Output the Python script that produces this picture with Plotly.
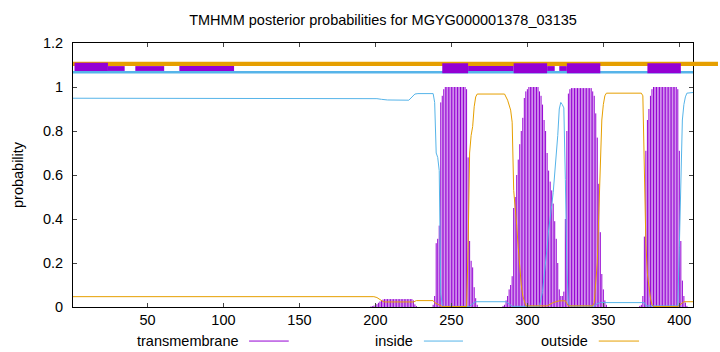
import plotly.graph_objects as go

# ---------------- data ----------------
SEQ_LEN = 409

# transmembrane posterior (impulses), only non-zero stretches
tm_pos_a = list(range(197, 228))
tm_val_a = [0.002, 0.004, 0.006, 0.009, 0.013, 0.019, 0.025, 0.030, 0.034,
            0.036, 0.036, 0.036, 0.036, 0.036, 0.036, 0.036, 0.036, 0.036, 0.036,
            0.036, 0.036, 0.036, 0.036, 0.036, 0.036, 0.036, 0.036, 0.036,
            0.030, 0.012, 0.004]
tm_pos_b = list(range(238, 268))
tm_val_b = [0.01, 0.05, 0.29, 0.31, 0.37, 0.93, 0.96, 0.99,
            1.0, 1.0, 1.0, 1.0, 1.0, 1.0, 1.0, 1.0, 1.0, 1.0, 1.0, 1.0, 1.0, 1.0,
            0.99, 0.68, 0.30, 0.21, 0.18, 0.09, 0.04, 0.01]
tm_pos_c = list(range(284, 353))
tm_val_c = [0.005, 0.01, 0.03, 0.05, 0.08, 0.10, 0.14, 0.45, 0.50, 0.60, 0.67, 0.74,
            0.80, 0.86, 0.95, 0.98, 0.99,
            1.0, 1.0, 1.0, 1.0, 1.0, 1.0, 1.0,
            0.98, 0.96, 0.92, 0.85, 0.80, 0.70, 0.62, 0.57, 0.53, 0.47, 0.39, 0.31,
            0.20, 0.08, 0.05, 0.05, 0.07, 0.40, 0.80, 0.97, 0.99,
            0.995, 0.995, 0.995, 0.995, 0.995, 0.995, 0.995, 0.995, 0.995, 0.995,
            0.995, 0.995, 0.995, 0.995,
            0.98, 0.96, 0.88, 0.77, 0.56, 0.34, 0.15, 0.08, 0.03, 0.01]
tm_pos_d = list(range(374, 406))
tm_val_d = [0.005, 0.01, 0.05, 0.32, 0.71, 0.85, 0.90, 0.96, 0.99,
            1.0, 1.0, 1.0, 1.0, 1.0, 1.0, 1.0, 1.0, 1.0, 1.0, 1.0, 1.0, 1.0, 1.0, 1.0, 1.0,
            0.99, 0.71, 0.30, 0.12, 0.05, 0.02, 0.005]

tm_pos = tm_pos_a + tm_pos_b + tm_pos_c + tm_pos_d
tm_val = tm_val_a + tm_val_b + tm_val_c + tm_val_d

# inside posterior (line vertices)
in_x = [1, 199, 201, 204, 208, 222, 224, 226, 228, 238, 239, 240, 241, 242, 243, 244, 245,
        262, 264, 266, 286, 288, 290, 308, 309, 310, 311, 312, 313, 314, 315, 316, 317,
        318, 319, 320, 321, 322, 323, 324, 325, 326, 327, 328, 344, 346, 348, 377, 378,
        399, 400, 401, 402, 403, 404, 405, 409]
in_y = [0.949, 0.949, 0.947, 0.944, 0.941, 0.940, 0.955, 0.968, 0.970, 0.970, 0.93, 0.70,
        0.68, 0.62, 0.06, 0.01, 0.003,
        0.003, 0.015, 0.024, 0.024, 0.012, 0.003, 0.003, 0.03, 0.07, 0.14, 0.20, 0.27,
        0.35, 0.42, 0.46, 0.52, 0.60, 0.67, 0.78, 0.90, 0.93, 0.92, 0.905, 0.58, 0.18,
        0.02, 0.004, 0.004, 0.015, 0.02, 0.02, 0.005,
        0.005, 0.27, 0.62, 0.85, 0.92, 0.955, 0.972, 0.975]

# outside posterior (line vertices)
out_x = [1, 199, 201, 203, 205, 206, 225, 227, 238, 239, 242, 244, 260, 261, 262, 263, 264,
         265, 266, 267, 285, 287, 289, 290, 291, 292, 293, 294, 295, 296, 297, 298, 299,
         313, 315, 317, 321, 325, 327, 343, 344, 345, 346, 347, 348, 349, 350, 351, 352,
         375, 376, 377, 378, 379, 380, 381, 382, 383, 399, 401, 403, 409]
out_y = [0.047, 0.047, 0.043, 0.033, 0.025, 0.023, 0.023, 0.029, 0.029, 0.02, 0.01, 0.002,
         0.002, 0.27, 0.70, 0.78, 0.82, 0.91, 0.955, 0.968, 0.968, 0.94, 0.895, 0.84, 0.53,
         0.46, 0.37, 0.27, 0.17, 0.10, 0.05, 0.02, 0.005,
         0.005, 0.012, 0.02, 0.028, 0.028, 0.005, 0.005, 0.02, 0.10, 0.20, 0.42, 0.64,
         0.85, 0.92, 0.96, 0.972,
         0.972, 0.96, 0.66, 0.29, 0.15, 0.09, 0.04, 0.01, 0.002, 0.002, 0.012, 0.024, 0.024]

# predicted topology band at the top
band_tm_tall = [(244, 261), (291, 313), (326, 348), (379, 401)]
band_tm_thin = [(24, 35), (42, 61), (71, 107), (261, 291), (313, 318), (321, 326)]
band_tm_top = [(2, 24)]

x_ticks = [50, 100, 150, 200, 250, 300, 350, 400]
y_ticks = [0, 0.2, 0.4, 0.6, 0.8, 1, 1.2]

TITLE = "TMHMM posterior probabilities for MGYG000001378_03135"
C_TM = "#9400D3"
C_IN = "#56B4E9"
C_OUT = "#E69F00"
FONT = "Liberation Sans, Arial, Helvetica, sans-serif"

# impulses (gnuplot "with impulses"): one vertical stroke per residue
imp_x, imp_y = [], []
for p, v in zip(tm_pos, tm_val):
    imp_x += [p, p, None]
    imp_y += [0, v, None]

fig = go.Figure()
fig.add_trace(go.Scatter(x=imp_x, y=imp_y, mode="lines", line=dict(color=C_TM, width=1),
                         showlegend=False, hoverinfo="skip"))
fig.add_trace(go.Scatter(x=in_x, y=in_y, mode="lines", line=dict(color=C_IN, width=1),
                         showlegend=False))
fig.add_trace(go.Scatter(x=out_x, y=out_y, mode="lines", line=dict(color=C_OUT, width=1),
                         showlegend=False))

shapes = []
# orange (outside) band – extends past the right border like the original
shapes.append(dict(type="rect", xref="paper", yref="y", x0=0, x1=1.0403, y0=1.095, y1=1.115,
                   fillcolor=C_OUT, line=dict(width=0), layer="above"))
# blue (inside) band
shapes.append(dict(type="rect", xref="x", yref="y", x0=1, x1=SEQ_LEN, y0=1.061, y1=1.073,
                   fillcolor=C_IN, line=dict(width=0), layer="above"))
for a, b in band_tm_thin:
    shapes.append(dict(type="rect", xref="x", yref="y", x0=a, x1=b, y0=1.073, y1=1.095,
                       fillcolor=C_TM, line=dict(width=0), layer="above"))
for a, b in band_tm_top:
    shapes.append(dict(type="rect", xref="x", yref="y", x0=a, x1=b, y0=1.073, y1=1.110,
                       fillcolor=C_TM, line=dict(width=0), layer="above"))
for a, b in band_tm_tall:
    shapes.append(dict(type="rect", xref="x", yref="y", x0=a, x1=b, y0=1.0625, y1=1.108,
                       fillcolor=C_TM, line=dict(width=0), layer="above"))

# legend samples (gnuplot style: text then line)
legend_items = [("transmembrane", C_TM, 0.271, 0.284, 0.348),
                ("inside", C_IN, 0.5516, 0.566, 0.629),
                ("outside", C_OUT, 0.834, 0.848, 0.913)]
annotations = []
LEG_Y = -0.129
for name, col, tx, l0, l1 in legend_items:
    annotations.append(dict(text=name, xref="paper", yref="paper", x=tx, y=LEG_Y,
                            xanchor="right", yanchor="middle", showarrow=False,
                            font=dict(family=FONT, size=14.5, color="#000")))
    shapes.append(dict(type="line", xref="paper", yref="paper", x0=l0, x1=l1, y0=LEG_Y, y1=LEG_Y,
                       line=dict(color=col, width=1)))

annotations.append(dict(text="probability", xref="paper", yref="paper", x=-0.0887, y=0.5,
                        textangle=-90, xanchor="center", yanchor="middle", showarrow=False,
                        font=dict(family=FONT, size=14.5, color="#000")))

fig.update_layout(
    width=720, height=352,
    margin=dict(l=73, r=27, t=43, b=45),
    paper_bgcolor="white", plot_bgcolor="white",
    title=dict(text=TITLE, x=0.5, xref="paper", y=1 - 20 / 352, yref="container",
               xanchor="center", yanchor="middle",
               font=dict(family=FONT, size=14.5, color="#000")),
    shapes=shapes, annotations=annotations,
    font=dict(family=FONT, size=14.5, color="#000"),
)
fig.update_xaxes(range=[1, SEQ_LEN], tickvals=x_ticks, ticks="inside", ticklen=4,
                 tickcolor="#444", showline=True, linecolor="#000", linewidth=1,
                 mirror="allticks", showgrid=False, zeroline=False,
                 tickfont=dict(family=FONT, size=14.5, color="#000"))
fig.update_yaxes(range=[0, 1.2], tickvals=y_ticks, ticks="inside", ticklen=4,
                 tickcolor="#444", showline=True, linecolor="#000", linewidth=1,
                 mirror="allticks", showgrid=False, zeroline=False, ticklabelstandoff=6,
                 tickfont=dict(family=FONT, size=14.5, color="#000"))

fig.write_html("out.html")
